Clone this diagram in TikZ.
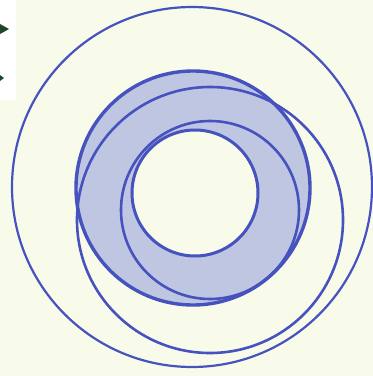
\documentclass[tikz,border=0pt]{standalone}
\begin{document}
\begin{tikzpicture}[x=1pt,y=-1pt,
  ln/.style={draw=lineblue, line width=#1},
  ln/.default=2.5pt]
\definecolor{bg}{RGB}{248,251,234}
\definecolor{lineblue}{RGB}{70,82,190}
\definecolor{ringfill}{RGB}{190,198,226}
\definecolor{dkgreen}{RGB}{30,70,45}
\useasboundingbox (0,0) rectangle (373,376);
\fill[bg] (0,0) rectangle (373,376);
\fill[white] (0,0) rectangle (16,100);
\fill[dkgreen] (0,24) -- (9,29) -- (0,34) -- cycle;
\fill[dkgreen] (0,75) -- (4,78) -- (0,81) -- cycle;
% shaded annulus
\fill[ringfill, even odd rule] (193,188) circle[radius=117] (195,193) circle[radius=63];
% circles
\draw[ln=2.2pt] (192,187) circle[radius=180];
\draw[ln=2.6pt] (210,220) circle[radius=133];
\draw[ln=2.6pt] (210,210) circle[radius=89];
\draw[ln=3.4pt] (193,188) circle[radius=117];
\draw[ln=3pt] (195,193) circle[radius=63];
\end{tikzpicture}
\end{document}
